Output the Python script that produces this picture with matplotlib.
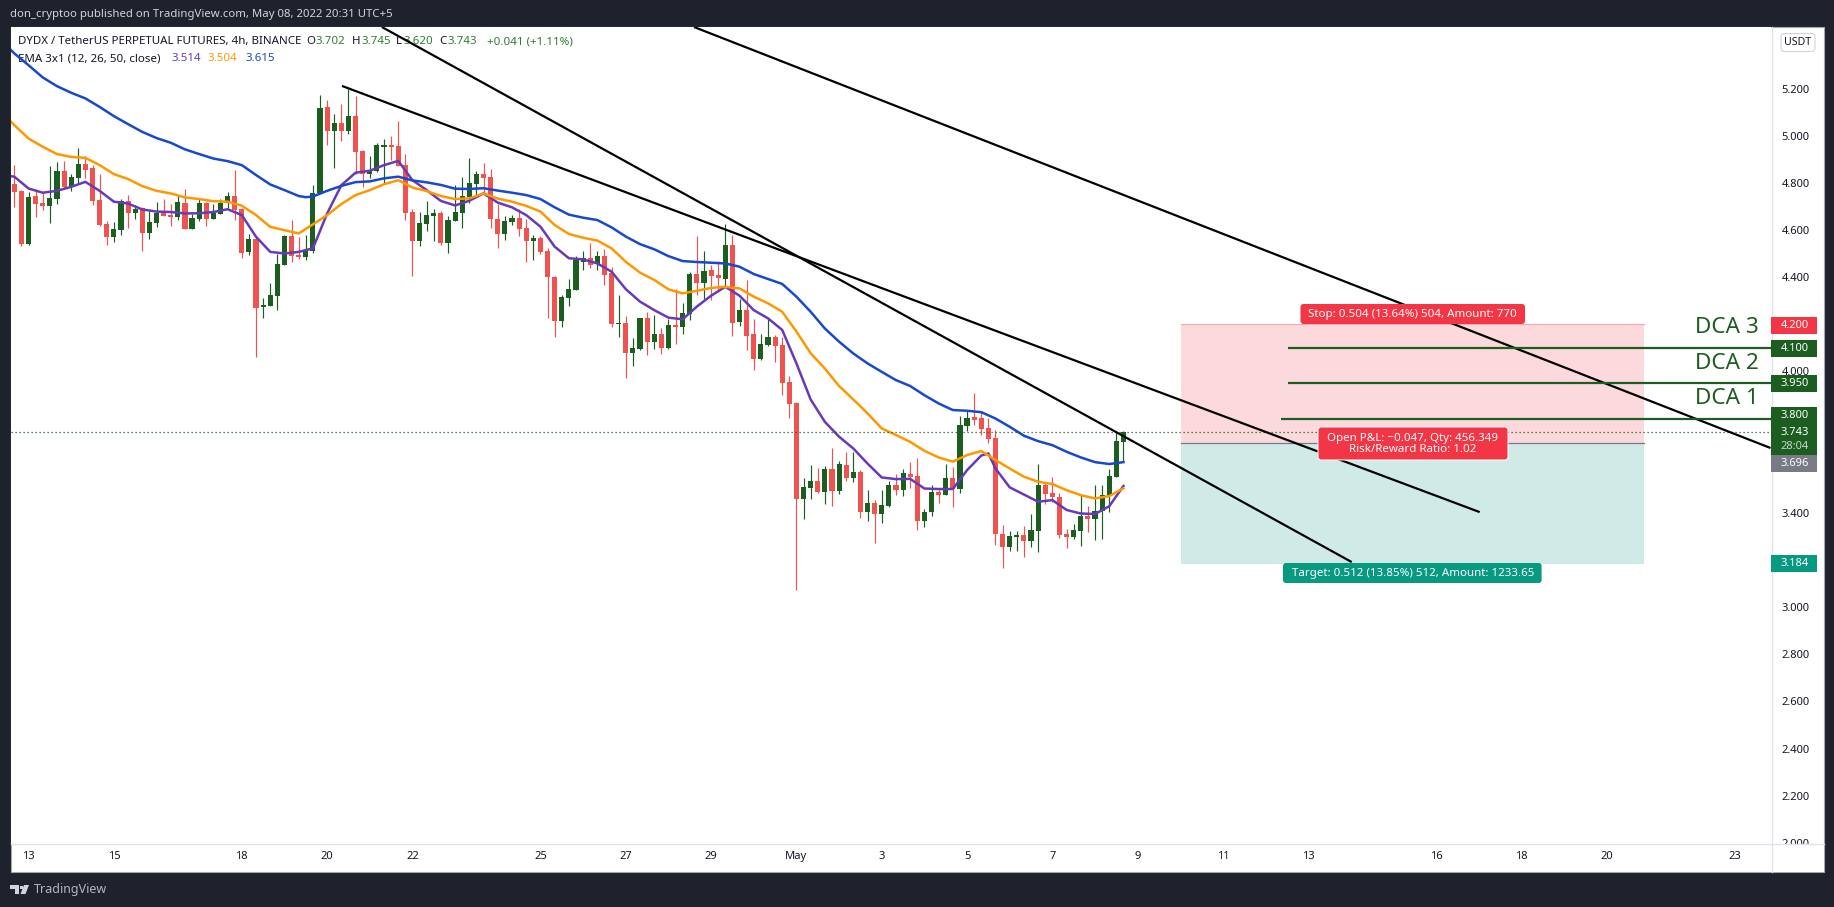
import numpy as np
import matplotlib
matplotlib.use("Agg")
import matplotlib.pyplot as plt
from matplotlib.patches import Rectangle, FancyBboxPatch, Polygon
from matplotlib.transforms import IdentityTransform

opens = [4.795,4.765,4.542,4.744,4.714,4.701,4.732,4.850,4.782,4.820,
4.880,4.863,4.727,4.625,4.570,4.600,4.723,4.672,4.693,4.587,
4.629,4.672,4.663,4.655,4.714,4.604,4.646,4.714,4.646,4.667,
4.714,4.744,4.689,4.506,4.561,4.273,4.277,4.320,4.451,4.574,
4.493,4.485,4.510,4.756,5.121,5.019,5.053,5.019,5.083,4.935,
4.837,4.850,4.952,4.960,4.956,4.875,4.676,4.553,4.625,4.659,
4.672,4.545,4.638,4.672,4.740,4.795,4.837,4.825,4.646,4.583,
4.634,4.651,4.608,4.553,4.566,4.511,4.400,4.214,4.311,4.345,
4.464,4.481,4.456,4.489,4.417,4.201,4.205,4.078,4.095,4.226,
4.125,4.159,4.099,4.197,4.188,4.243,4.413,4.375,4.430,4.409,
4.392,4.536,4.210,4.260,4.159,4.053,4.112,4.146,4.112,3.955,
3.865,3.458,3.505,3.535,3.488,3.585,3.492,3.602,3.547,3.573,
3.403,3.441,3.395,3.428,3.518,3.496,3.564,3.556,3.365,3.403,
3.488,3.475,3.547,3.501,3.768,3.806,3.802,3.759,3.717,3.310,
3.255,3.297,3.305,3.280,3.322,3.518,3.484,3.467,3.310,3.297,
3.322,3.386,3.373,3.407,3.471,3.551,3.702]
closes = [4.762,4.542,4.740,4.711,4.701,4.735,4.850,4.782,4.824,4.880,
4.854,4.723,4.621,4.570,4.604,4.723,4.672,4.689,4.587,4.633,
4.672,4.659,4.655,4.718,4.604,4.650,4.714,4.646,4.672,4.714,
4.744,4.684,4.502,4.561,4.269,4.281,4.324,4.455,4.574,4.489,
4.485,4.515,4.756,5.117,5.019,5.053,5.019,5.083,4.930,4.837,
4.854,4.960,4.960,4.952,4.871,4.673,4.553,4.629,4.663,4.672,
4.545,4.642,4.676,4.744,4.799,4.837,4.820,4.646,4.583,4.638,
4.651,4.604,4.553,4.566,4.506,4.400,4.214,4.316,4.349,4.473,
4.481,4.451,4.489,4.409,4.201,4.205,4.078,4.099,4.226,4.125,
4.159,4.099,4.197,4.188,4.248,4.413,4.375,4.426,4.405,4.396,
4.536,4.205,4.260,4.150,4.053,4.116,4.146,4.108,3.951,3.862,
3.458,3.509,3.535,3.488,3.585,3.492,3.607,3.547,3.573,3.403,
3.441,3.395,3.433,3.518,3.496,3.568,3.552,3.365,3.403,3.488,
3.475,3.547,3.501,3.772,3.802,3.793,3.755,3.713,3.310,3.255,
3.301,3.305,3.280,3.327,3.518,3.479,3.467,3.305,3.297,3.327,
3.386,3.373,3.407,3.475,3.556,3.704,3.743]
highs = [4.875,4.769,4.761,4.769,4.758,4.871,4.888,4.892,4.837,4.947,
4.913,4.875,4.837,4.638,4.633,4.731,4.748,4.706,4.696,4.680,
4.718,4.731,4.710,4.744,4.773,4.667,4.731,4.718,4.710,4.731,
4.761,4.854,4.693,4.583,4.570,4.311,4.375,4.498,4.578,4.642,
4.570,4.578,4.790,5.172,5.151,5.092,5.134,5.200,5.168,4.939,
4.913,4.969,4.986,4.998,5.062,4.922,4.689,4.676,4.723,4.689,
4.680,4.659,4.791,4.825,4.905,4.850,4.884,4.859,4.710,4.659,
4.663,4.689,4.646,4.579,4.574,4.523,4.405,4.324,4.392,4.489,
4.511,4.545,4.511,4.519,4.443,4.324,4.235,4.142,4.226,4.252,
4.239,4.184,4.222,4.349,4.290,4.422,4.574,4.511,4.451,4.468,
4.625,4.579,4.307,4.388,4.222,4.159,4.222,4.154,4.146,3.980,
3.870,3.547,3.602,3.590,3.598,3.675,3.619,3.658,3.658,3.581,
3.496,3.454,3.496,3.535,3.564,3.585,3.615,3.632,3.416,3.518,
3.505,3.607,3.594,3.810,3.836,3.908,3.831,3.802,3.751,3.348,
3.322,3.322,3.344,3.395,3.607,3.526,3.551,3.484,3.331,3.352,
3.475,3.428,3.518,3.518,3.585,3.742,3.745]
lows = [4.699,4.533,4.537,4.656,4.684,4.631,4.711,4.772,4.766,4.795,
4.820,4.706,4.616,4.536,4.549,4.578,4.608,4.646,4.510,4.561,
4.612,4.659,4.616,4.642,4.604,4.604,4.638,4.616,4.646,4.667,
4.693,4.642,4.481,4.493,4.061,4.226,4.277,4.260,4.451,4.464,
4.476,4.472,4.502,4.756,4.960,4.863,4.977,5.007,4.837,4.782,
4.820,4.846,4.799,4.896,4.871,4.642,4.405,4.532,4.596,4.553,
4.536,4.502,4.638,4.608,4.714,4.744,4.752,4.608,4.523,4.557,
4.621,4.574,4.464,4.473,4.498,4.226,4.146,4.188,4.277,4.345,
4.430,4.439,4.430,4.366,4.188,4.146,3.972,4.023,4.091,4.070,
4.095,4.074,4.095,4.116,4.159,4.218,4.324,4.307,4.303,4.341,
4.362,4.150,4.193,4.091,4.006,4.048,4.108,4.040,3.900,3.802,
3.072,3.373,3.458,3.484,3.437,3.428,3.479,3.535,3.530,3.378,
3.365,3.272,3.356,3.424,3.475,3.471,3.505,3.327,3.339,3.386,
3.441,3.475,3.424,3.484,3.747,3.772,3.730,3.696,3.263,3.165,
3.238,3.238,3.212,3.255,3.233,3.437,3.445,3.293,3.250,3.288,
3.259,3.318,3.284,3.288,3.403,3.551,3.620]

ema50_bars = [-0.46,0,2,4,6,8,10,12,14,16,18,20,22,24,26,28,30,32,34,36,38,40,41,42,44,46,48,50,52,54,56,58,60,62,64,66,68,70,72,74,76,78,80,82,84,86,88,90,92,94,96,98,100,102,104,106,108,110,112,114,116,118,120,122,124,126,128,130,132,134,136,138,140,142,144,146,148,150,152,154,156]
ema50 = [5.363,5.349,5.299,5.247,5.210,5.182,5.158,5.122,5.083,5.049,5.016,4.990,4.970,4.942,4.922,4.903,4.892,4.875,4.833,4.793,4.769,4.744,4.739,4.742,4.766,4.787,4.803,4.806,4.819,4.826,4.810,4.802,4.791,4.775,4.774,4.777,4.767,4.758,4.748,4.731,4.696,4.665,4.652,4.642,4.611,4.572,4.540,4.518,4.489,4.468,4.464,4.461,4.458,4.444,4.413,4.392,4.371,4.317,4.253,4.182,4.126,4.076,4.034,3.998,3.963,3.938,3.899,3.864,3.836,3.833,3.827,3.800,3.765,3.727,3.704,3.687,3.659,3.635,3.615,3.607,3.615]
ema26_bars = ema50_bars[:22] + ema50_bars[24:]
ema26 = [5.059,5.045,4.988,4.953,4.922,4.910,4.906,4.875,4.837,4.816,4.786,4.766,4.755,4.738,4.731,4.722,4.720,4.703,4.663,4.613,4.599,4.585,4.663,4.710,4.748,4.769,4.794,4.811,4.780,4.765,4.744,4.731,4.734,4.755,4.733,4.720,4.702,4.678,4.621,4.583,4.567,4.555,4.522,4.465,4.419,4.388,4.348,4.331,4.342,4.354,4.359,4.352,4.317,4.289,4.253,4.169,4.077,4.012,3.938,3.881,3.822,3.758,3.730,3.701,3.663,3.635,3.617,3.645,3.662,3.624,3.588,3.553,3.532,3.522,3.496,3.475,3.461,3.471,3.504]
ema12_bars = [-0.46,0,2,4,6,8,10,12,14,16,18,20,22,24,26,28,30,32,34,36,38,40,42,44,46,48,50,52,54,56,58,60,62,64,66,68,70,72,74,76,78,80,82,84,86,88,90,92,94,96,98,100,102,104,106,108,110,112,114,116,118,120,122,124,126,128,130,132,134,136,137,138,140,144,146,148,150,152,154,156]
ema12 = [4.828,4.826,4.776,4.758,4.766,4.783,4.804,4.766,4.720,4.712,4.687,4.678,4.676,4.670,4.671,4.676,4.688,4.663,4.571,4.507,4.500,4.507,4.522,4.670,4.790,4.843,4.851,4.875,4.893,4.811,4.769,4.723,4.704,4.724,4.755,4.716,4.696,4.663,4.614,4.529,4.480,4.475,4.458,4.423,4.349,4.296,4.260,4.228,4.221,4.275,4.321,4.359,4.321,4.260,4.225,4.176,4.034,3.881,3.786,3.723,3.673,3.609,3.550,3.543,3.544,3.503,3.501,3.501,3.581,3.643,3.652,3.588,3.508,3.447,3.454,3.412,3.397,3.395,3.428,3.514]

trend_bars = [(46.09,206.1),(51.7,188.1),(95.6,247.0)]
trend_prices = [(5.211,3.403),(5.461,3.191),(5.461,3.675)]

entry_price = 3.696
stop_price = 4.200
target_price = 3.184
position_bars = (164.1,229.2)
last_price = 3.743
dca_prices = [3.800,3.950,4.100]
dca_start_bars = [178.2,179.1,179.1]
dca_names = ["DCA 1","DCA 2","DCA 3"]
dca_text_prices = [3.885,4.033,4.188]

yticks = [2.0,2.2,2.4,2.6,2.8,3.0,3.4,4.0,4.4,4.6,4.8,5.0,5.2]
xtick_bars = [2,14,32,44,56,74,86,98,110,122,134,146,158,170,182,200,212,224,242]
xtick_labels = ["13","15","18","20","22","25","27","29","May","3","5","7","9","11","13","16","18","20","23"]

price_tags = [("4.200",325,"#F23645"),("4.100",348.5,"#1B5E20"),("3.950",383.5,"#1B5E20"),
              ("3.800",415.5,"#1B5E20"),("3.696",463.5,"#787B86"),("3.184",563.5,"#089981")]

FONT = "Noto Sans"
plt.rcParams["font.family"] = [FONT, "DejaVu Sans"]
plt.rcParams["lines.solid_joinstyle"] = "round"
DARK = "#1E222D"; GREEN = "#1B5E20"; RED = "#EF5350"; TEXT = "#131722"; AXC = "#E0E3EB"
W, H = 1834, 907
def fx(x): return x / W
def fy(y): return 1 - y / H

fig = plt.figure(figsize=(W/100, H/100), dpi=100, facecolor=DARK)
fig.add_artist(Rectangle((fx(10.5), fy(872)), fx(1813), 845/H, transform=fig.transFigure,
                         facecolor="white", edgecolor="#A3A6AF", lw=0.8, zorder=-1))
ax = fig.add_axes([fx(11), fy(844), 1760/W, 817/H], facecolor="white")

idx = np.arange(len(opens))
o, c, h, l = map(np.array, (opens, closes, highs, lows))
colors = np.where(c >= o, GREEN, RED)
ax.vlines(idx, l, h, colors=colors, lw=0.85, zorder=2)
ax.bar(idx, np.abs(c-o), bottom=np.minimum(o, c), width=0.72, color=colors, lw=0, zorder=2.1)

ax.plot(ema12_bars, ema12, color="#673AB7", lw=1.8, zorder=2.5)
ax.plot(ema26_bars, ema26, color="#FF9800", lw=1.8, zorder=2.6)
ax.plot(ema50_bars, ema50, color="#1848CC", lw=1.8, zorder=2.7)

ax.add_patch(Rectangle((position_bars[0], entry_price), position_bars[1]-position_bars[0], stop_price-entry_price,
                       facecolor="#F23645", alpha=0.19, lw=0, zorder=1))
ax.add_patch(Rectangle((position_bars[0], target_price), position_bars[1]-position_bars[0], entry_price-target_price,
                       facecolor="#089981", alpha=0.19, lw=0, zorder=1))
ax.plot(position_bars, [stop_price]*2, color="#F7A8B0", lw=0.8, zorder=1.2)
ax.plot(position_bars, [entry_price]*2, color="#787B86", lw=0.9, zorder=1.2)

ax.axhline(last_price, color=GREEN, lw=0.9, ls=(0, (1, 2.2)), zorder=2.8)

for bars, prices in zip(trend_bars, trend_prices):
    ax.plot(bars, prices, color="black", lw=1.6, zorder=3, solid_capstyle="butt")

ax.set_xlim(-0.464, 247.07)
ax.set_ylim(1.995, 5.461)

xr = ax.get_xlim()[1]
for p, s, n, tp in zip(dca_prices, dca_start_bars, dca_names, dca_text_prices):
    ax.hlines(p, s, xr, color=GREEN, lw=1.6, zorder=3.2)
    ax.text(245.4, tp, n, color=GREEN, fontsize=16.2, ha="right", va="center", zorder=4)

def box(x0, y0, x1, y1, fc, ec="none", lw=0):
    ax.add_patch(FancyBboxPatch((x0, H-y1), x1-x0, y1-y0, boxstyle="round,pad=0,rounding_size=3",
                                transform=IdentityTransform(), fc=fc, ec=ec, lw=lw, zorder=5, clip_on=False))
boxkw = dict(color="white", fontsize=8.3, ha="center", va="center", zorder=6)
box(1300.5, 304, 1525, 324, "#F23645")
ax.text(196.7, 4.243, "Stop: 0.504 (13.64%) 504, Amount: 770", **boxkw)
box(1318, 427, 1508, 460, "#F23645", "white", 0.7)
ax.text(196.7, 3.694, "Open P&L: \u22120.047, Qty: 456.349\nRisk/Reward Ratio: 1.02", linespacing=1.0, **boxkw)
box(1283, 563, 1541.6, 583, "#089981")
ax.text(196.7, 3.144, "Target: 0.512 (13.85%) 512, Amount: 1233.65", **boxkw)

for s in ("top", "left", "right", "bottom"):
    ax.spines[s].set_visible(False)
ax.yaxis.tick_right()
ax.set_yticks(yticks)
ax.set_yticklabels([f"{v:.3f}" for v in yticks])
ax.set_xticks(xtick_bars)
ax.set_xticklabels(xtick_labels)
ax.tick_params(axis="y", length=0, pad=7.5, labelsize=8, labelcolor=TEXT)
ax.tick_params(axis="x", length=0, pad=5, labelsize=8, labelcolor=TEXT)

def t(x, y, s, color=TEXT, size=8.3, **kw):
    ax.text(fx(x), fy(y), s, color=color, fontsize=size, transform=fig.transFigure,
            va="center", ha="left", zorder=1.5, clip_on=False, **kw)
t(18, 41.7, "DYDX / TetherUS PERPETUAL FUTURES, 4h, BINANCE")
LG = "#2E7D32"
for x, lab, vx, val in [(306,"O",315,"3.702"),(352,"H",361,"3.745"),(396,"L",403,"3.620"),(439,"C",448,"3.743")]:
    t(x, 41.7, lab); t(vx, 41.7, val, LG)
t(487, 41.7, "+0.041 (+1.11%)", LG)
t(18, 58.7, "EMA 3x1 (12, 26, 50, close)")
t(171, 58.7, "3.514", "#673AB7"); t(208, 58.7, "3.504", "#FF9800"); t(245, 58.7, "3.615", "#1848CC")

fig.text(fx(10), fy(15), "don_cryptoo published on TradingView.com, May 08, 2022 20:31 UTC+5",
         color="#D1D4DC", fontsize=8.2, va="center", ha="left")
fig.text(fx(34), fy(889), "TradingView", color="#B2B5BE", fontsize=9.0, va="center", ha="left")
LOGO = "#D1D4DC"
fig.add_artist(Polygon([(fx(10),fy(885)),(fx(19),fy(885)),(fx(19),fy(894)),(fx(14.5),fy(894)),(fx(14.5),fy(889)),(fx(10),fy(889))],
                       closed=True, transform=fig.transFigure, fc=LOGO, ec="none", zorder=5))
fig.add_artist(Polygon([(fx(24),fy(885)),(fx(29),fy(885)),(fx(25.5),fy(894)),(fx(20.5),fy(894))],
                       closed=True, transform=fig.transFigure, fc=LOGO, ec="none", zorder=5))
fig.add_artist(Rectangle((fx(20),fy(888.5)), 3/W, 3/H, transform=fig.transFigure, fc=LOGO, ec="none", zorder=5))

# time-scale strip and axis rules
fig.add_artist(Rectangle((fx(1771.5), fy(871.5)), 52/W, 27/H, transform=fig.transFigure, fc="white", ec="none", zorder=4))
fig.add_artist(plt.Line2D([fx(11), fx(1823.5)], [fy(844)]*2, transform=fig.transFigure, color=AXC, lw=1.0, zorder=4.5))
fig.add_artist(plt.Line2D([fx(1771.5)]*2, [fy(27), fy(871.5)], transform=fig.transFigure, color=AXC, lw=1.0, zorder=4.5))

fig.add_artist(FancyBboxPatch((fx(1781),fy(51.5)), 34/W, 18/H, boxstyle="round,pad=0,rounding_size=0.002",
                              transform=fig.transFigure, fc="white", ec="#D1D4DC", lw=0.8, zorder=5, mutation_aspect=2))
fig.text(fx(1798), fy(42.5), "USDT", color=TEXT, fontsize=7.6, ha="center", va="center", zorder=6)

def tag(y0, y1, color):
    fig.add_artist(Rectangle((fx(1771), fy(y1)), 46/W, (y1-y0)/H, transform=fig.transFigure, fc=color, ec="none", zorder=5))
for s, y, col in price_tags:
    tag(y-8.5, y+8.5, col)
    fig.text(fx(1795), fy(y), s, color="white", fontsize=8, ha="center", va="center", zorder=6)
tag(424, 455, GREEN)
fig.text(fx(1795), fy(432.5), f"{last_price:.3f}", color="white", fontsize=8, ha="center", va="center", zorder=6)
fig.text(fx(1795), fy(446.7), "28:04", color="#C8D8C9", fontsize=8, ha="center", va="center", zorder=6)

fig.savefig("out.png", dpi=100, facecolor=DARK)
